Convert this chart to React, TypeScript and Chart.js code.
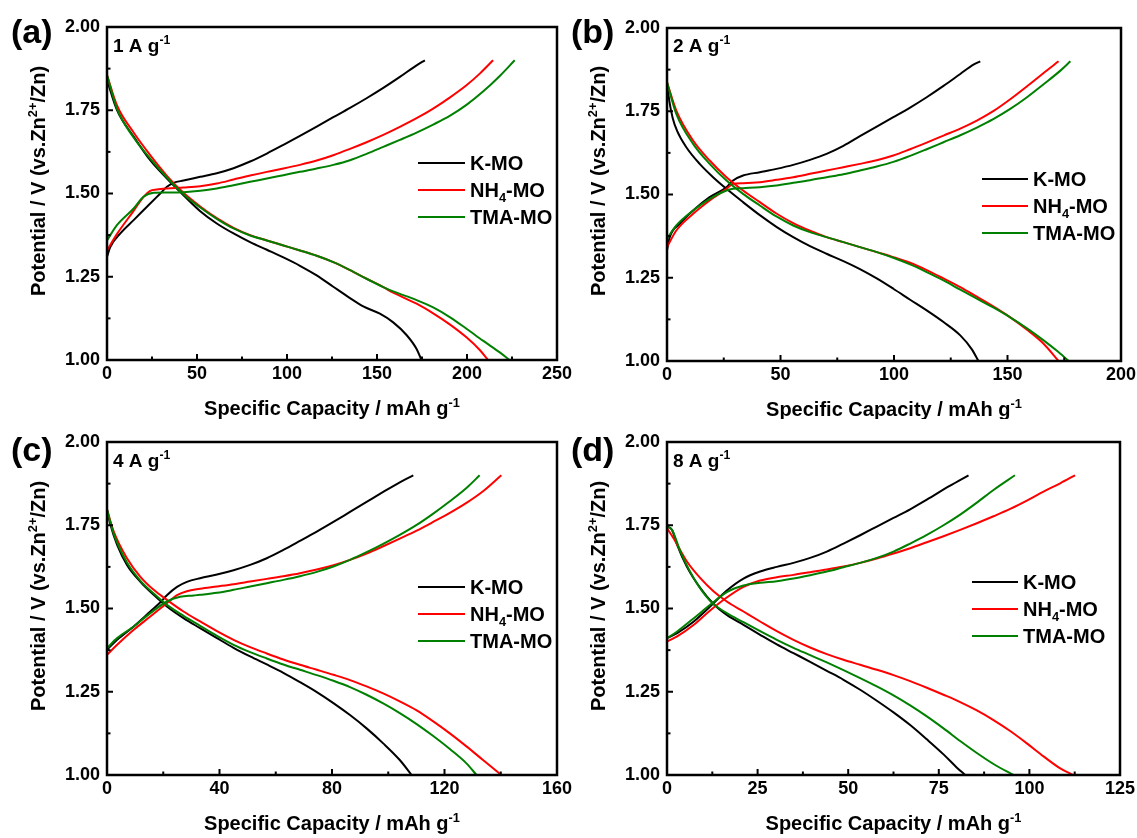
import { useEffect, useRef } from 'react';
import { Chart, registerables } from 'chart.js';
Chart.register(...registerables);

const FONT = "'Liberation Sans', Arial, Helvetica, sans-serif";

type Pt = [number, number];

// ---------- labels / ticks ----------
const SERIES_NAMES = ['K-MO', 'NH4-MO', 'TMA-MO'];
const SERIES_COLORS = ['#000000', '#ff0000', '#008000'];
const PANEL_LETTERS = ['(a)', '(b)', '(c)', '(d)'];
const CURRENT_DENSITIES = ['1', '2', '4', '8'];
const Y_TICKS = [1.0, 1.25, 1.5, 1.75, 2.0];
const X_TICKS_A = [0, 50, 100, 150, 200, 250];
const X_TICKS_B = [0, 50, 100, 150, 200];
const X_TICKS_C = [0, 40, 80, 120, 160];
const X_TICKS_D = [0, 25, 50, 75, 100, 125];

// ---------- (a) 1 A g-1 ----------
const A_K_DIS: Pt[] = [[0,1.841],[5.5,1.751],[14.8,1.671],[24.0,1.600],[33.3,1.545],[42.5,1.495],[51.8,1.447],[61.0,1.410],[70.3,1.380],[79.5,1.354],[88.8,1.331],[98.0,1.308],[107.2,1.283],[116.5,1.254],[125.7,1.220],[135.0,1.186],[142.4,1.161],[151.6,1.139],[159.0,1.113],[166.4,1.075],[172.0,1.033],[174.7,1.0]];
const A_N_DIS: Pt[] = [[0,1.856],[5.5,1.765],[14.8,1.683],[24.0,1.615],[33.3,1.553],[42.5,1.502],[51.8,1.461],[61.0,1.426],[70.3,1.397],[79.5,1.375],[88.8,1.359],[98.0,1.344],[107.2,1.329],[116.5,1.313],[125.7,1.294],[135.0,1.270],[144.2,1.244],[153.5,1.219],[159.0,1.202],[172.0,1.169],[181.2,1.140],[190.4,1.107],[199.7,1.068],[207.1,1.030],[211.7,1.0]];
const A_T_DIS: Pt[] = [[0,1.856],[5.5,1.755],[14.8,1.668],[24.0,1.605],[33.3,1.548],[42.5,1.498],[51.8,1.458],[61.0,1.424],[70.3,1.395],[79.5,1.374],[88.8,1.359],[98.0,1.344],[107.2,1.329],[116.5,1.313],[125.7,1.294],[135.0,1.270],[144.2,1.244],[153.5,1.219],[159.0,1.206],[172.0,1.180],[181.2,1.158],[190.4,1.129],[199.7,1.094],[208.9,1.058],[218.2,1.023],[223.7,1.0]];
const A_K_CHG: Pt[] = [[0,1.310],[1.8,1.339],[7.4,1.380],[14.8,1.420],[24.0,1.470],[29.6,1.500],[33.3,1.520],[37.0,1.532],[42.5,1.539],[51.8,1.550],[61.0,1.561],[70.3,1.576],[79.5,1.596],[88.8,1.620],[98.0,1.646],[107.2,1.673],[116.5,1.701],[125.7,1.729],[135.0,1.757],[144.2,1.786],[153.5,1.817],[162.7,1.850],[172.0,1.885],[176.6,1.900]];
const A_N_CHG: Pt[] = [[0,1.329],[5.5,1.378],[14.8,1.448],[20.3,1.490],[24.0,1.508],[27.7,1.512],[33.3,1.515],[42.5,1.518],[51.8,1.522],[61.0,1.530],[70.3,1.542],[79.5,1.554],[88.8,1.565],[98.0,1.575],[107.2,1.586],[116.5,1.599],[125.7,1.615],[135.0,1.634],[144.2,1.654],[153.5,1.676],[162.7,1.700],[172.0,1.726],[181.2,1.755],[190.4,1.788],[199.7,1.825],[207.1,1.860],[214.5,1.900]];
const A_T_CHG: Pt[] = [[0,1.359],[5.5,1.405],[14.8,1.455],[20.3,1.490],[25.9,1.502],[33.3,1.503],[42.5,1.504],[51.8,1.508],[61.0,1.515],[70.3,1.525],[79.5,1.535],[88.8,1.545],[98.0,1.555],[107.2,1.565],[116.5,1.575],[125.7,1.586],[135.0,1.600],[144.2,1.619],[153.5,1.640],[162.7,1.661],[172.0,1.683],[181.2,1.707],[190.4,1.733],[199.7,1.766],[208.9,1.806],[218.2,1.853],[226.5,1.900]];

// ---------- (b) 2 A g-1 ----------
const B_K_DIS: Pt[] = [[0,1.837],[1.0,1.782],[2.5,1.730],[4.5,1.690],[8.5,1.642],[14.4,1.592],[20.3,1.552],[26.2,1.517],[33.5,1.477],[40.9,1.438],[48.2,1.403],[55.6,1.372],[63.0,1.345],[70.3,1.322],[77.7,1.300],[85.0,1.276],[92.4,1.248],[99.7,1.217],[107.1,1.184],[114.4,1.152],[121.8,1.117],[129.2,1.077],[134.3,1.035],[137.2,1.0]];
const B_N_DIS: Pt[] = [[0,1.837],[4.1,1.752],[11.5,1.662],[18.8,1.602],[26.2,1.552],[33.5,1.512],[40.9,1.477],[48.2,1.443],[55.6,1.414],[63.0,1.391],[70.3,1.372],[77.7,1.357],[85.0,1.342],[92.4,1.327],[99.7,1.312],[107.1,1.295],[114.4,1.273],[121.8,1.248],[129.2,1.222],[136.5,1.193],[143.9,1.163],[151.2,1.131],[158.6,1.094],[165.9,1.052],[172.5,1.0]];
const B_T_DIS: Pt[] = [[0,1.837],[4.1,1.742],[11.5,1.652],[18.8,1.592],[26.2,1.542],[33.5,1.502],[40.9,1.467],[48.2,1.434],[55.6,1.407],[63.0,1.387],[70.3,1.372],[77.7,1.357],[85.0,1.342],[92.4,1.327],[99.7,1.310],[107.1,1.290],[114.4,1.267],[121.8,1.242],[129.2,1.214],[136.5,1.187],[143.9,1.160],[151.2,1.131],[158.6,1.098],[165.9,1.062],[171.5,1.032],[177.0,1.0]];
const B_K_CHG: Pt[] = [[0,1.332],[1.2,1.372],[5.6,1.412],[11.5,1.452],[18.8,1.492],[26.2,1.522],[29.1,1.542],[33.5,1.557],[40.9,1.567],[48.2,1.577],[55.6,1.589],[63.0,1.604],[70.3,1.622],[77.7,1.646],[85.0,1.675],[92.4,1.704],[99.7,1.732],[107.1,1.761],[114.4,1.792],[121.8,1.826],[129.2,1.862],[135.0,1.890],[138.0,1.900]];
const B_N_CHG: Pt[] = [[0,1.342],[4.1,1.392],[11.5,1.442],[18.8,1.482],[26.2,1.517],[29.1,1.532],[33.5,1.534],[40.9,1.537],[48.2,1.544],[55.6,1.552],[63.0,1.562],[70.3,1.572],[77.7,1.582],[85.0,1.592],[92.4,1.603],[99.7,1.617],[107.1,1.636],[114.4,1.656],[121.8,1.677],[129.2,1.698],[136.5,1.722],[143.9,1.751],[151.2,1.786],[158.6,1.825],[165.9,1.865],[172.5,1.900]];
const B_T_CHG: Pt[] = [[0,1.367],[4.1,1.407],[11.5,1.452],[18.8,1.487],[26.2,1.512],[29.1,1.517],[33.5,1.519],[40.9,1.522],[48.2,1.527],[55.6,1.535],[63.0,1.543],[70.3,1.552],[77.7,1.561],[85.0,1.572],[92.4,1.584],[99.7,1.598],[107.1,1.616],[114.4,1.636],[121.8,1.657],[129.2,1.678],[136.5,1.701],[143.9,1.727],[151.2,1.757],[158.6,1.792],[165.9,1.831],[173.3,1.872],[177.7,1.900]];

// ---------- (c) 4 A g-1 ----------
const C_K_DIS: Pt[] = [[0,1.797],[1.2,1.752],[3.6,1.691],[7.1,1.631],[11.8,1.581],[16.6,1.541],[21.3,1.506],[27.2,1.471],[33.1,1.441],[39.1,1.411],[45.0,1.382],[50.9,1.356],[56.8,1.332],[62.7,1.307],[68.6,1.279],[74.6,1.249],[80.5,1.216],[86.4,1.180],[92.3,1.140],[98.2,1.095],[104.1,1.045],[108.3,1.0]];
const C_N_DIS: Pt[] = [[0,1.797],[2.4,1.731],[7.1,1.651],[11.8,1.596],[16.6,1.556],[21.3,1.526],[27.2,1.491],[33.1,1.461],[39.1,1.432],[45.0,1.406],[50.9,1.384],[56.8,1.365],[62.7,1.347],[68.6,1.331],[74.6,1.316],[80.5,1.301],[86.4,1.285],[92.3,1.266],[98.2,1.245],[104.1,1.221],[110.1,1.194],[116.0,1.161],[121.9,1.125],[127.8,1.086],[133.7,1.045],[140.2,1.0]];
const C_T_DIS: Pt[] = [[0,1.797],[2.4,1.724],[7.1,1.638],[11.8,1.584],[16.6,1.545],[21.3,1.511],[27.2,1.478],[33.1,1.448],[39.1,1.418],[45.0,1.391],[50.9,1.369],[56.8,1.350],[62.7,1.332],[68.6,1.316],[74.6,1.300],[80.5,1.283],[86.4,1.264],[92.3,1.241],[98.2,1.215],[104.1,1.186],[110.1,1.153],[116.0,1.117],[121.9,1.078],[127.8,1.035],[131.4,1.0]];
const C_K_CHG: Pt[] = [[0,1.376],[3.6,1.406],[9.5,1.446],[15.4,1.491],[18.9,1.518],[21.3,1.540],[24.9,1.565],[28.4,1.580],[33.1,1.591],[39.1,1.602],[45.0,1.615],[50.9,1.631],[56.8,1.651],[62.7,1.676],[68.6,1.703],[74.6,1.731],[80.5,1.760],[86.4,1.790],[92.3,1.820],[98.2,1.850],[104.1,1.879],[108.9,1.900]];
const C_N_CHG: Pt[] = [[0,1.361],[3.6,1.391],[9.5,1.436],[15.4,1.476],[21.3,1.516],[24.9,1.540],[28.4,1.552],[33.1,1.559],[39.1,1.566],[45.0,1.573],[50.9,1.581],[56.8,1.589],[62.7,1.597],[68.6,1.606],[74.6,1.617],[80.5,1.630],[86.4,1.646],[92.3,1.665],[98.2,1.687],[104.1,1.710],[110.1,1.734],[116.0,1.760],[121.9,1.787],[127.8,1.817],[133.7,1.852],[140.2,1.900]];
const C_T_CHG: Pt[] = [[0,1.381],[3.6,1.411],[9.5,1.446],[15.4,1.486],[21.3,1.521],[26.0,1.535],[30.8,1.539],[33.1,1.541],[39.1,1.547],[45.0,1.556],[50.9,1.566],[56.8,1.576],[62.7,1.586],[68.6,1.597],[74.6,1.610],[80.5,1.626],[86.4,1.646],[92.3,1.669],[98.2,1.694],[104.1,1.721],[110.1,1.751],[116.0,1.785],[121.9,1.822],[127.8,1.862],[132.5,1.900]];

// ---------- (d) 8 A g-1 ----------
const D_K_DIS: Pt[] = [[0,1.746],[1.4,1.736],[2.8,1.691],[5.5,1.625],[9.2,1.561],[12.9,1.513],[16.5,1.481],[21.1,1.451],[25.7,1.421],[30.3,1.392],[34.9,1.366],[39.5,1.340],[44.1,1.313],[48.7,1.286],[53.3,1.256],[57.9,1.223],[62.5,1.188],[67.1,1.150],[71.7,1.107],[76.3,1.062],[80.0,1.022],[82.3,1.0]];
const D_N_DIS: Pt[] = [[0,1.741],[1.8,1.711],[5.5,1.641],[9.2,1.591],[12.9,1.551],[16.5,1.521],[21.1,1.491],[25.7,1.461],[30.3,1.432],[34.9,1.406],[39.5,1.383],[44.1,1.363],[48.7,1.346],[53.3,1.331],[57.9,1.316],[62.5,1.300],[67.1,1.282],[71.7,1.262],[76.3,1.241],[80.9,1.219],[85.5,1.194],[90.1,1.165],[94.7,1.132],[99.3,1.095],[103.9,1.056],[108.5,1.020],[112.1,1.0]];
const D_T_DIS: Pt[] = [[0,1.746],[1.4,1.736],[3.7,1.671],[7.4,1.591],[11.9,1.523],[16.5,1.486],[21.1,1.459],[25.7,1.432],[30.3,1.406],[34.9,1.382],[39.5,1.360],[44.1,1.338],[48.7,1.315],[53.3,1.291],[57.9,1.266],[62.5,1.239],[67.1,1.209],[71.7,1.176],[76.3,1.140],[80.9,1.102],[85.5,1.066],[90.1,1.033],[95.6,1.0]];
const D_K_CHG: Pt[] = [[0,1.411],[2.8,1.426],[7.4,1.461],[11.9,1.506],[16.5,1.554],[21.1,1.590],[25.7,1.611],[30.3,1.625],[34.9,1.637],[39.5,1.652],[44.1,1.671],[48.7,1.695],[53.3,1.720],[57.9,1.746],[62.5,1.772],[67.1,1.798],[71.7,1.827],[78.0,1.868],[83.2,1.900]];
const D_N_CHG: Pt[] = [[0,1.401],[2.8,1.416],[7.4,1.451],[11.9,1.494],[16.5,1.533],[21.1,1.565],[25.7,1.584],[30.3,1.594],[34.9,1.601],[39.5,1.609],[44.1,1.617],[48.7,1.626],[53.3,1.637],[57.9,1.650],[62.5,1.665],[67.1,1.681],[71.7,1.699],[76.3,1.717],[80.9,1.736],[85.5,1.756],[90.1,1.777],[94.7,1.799],[99.3,1.824],[103.9,1.851],[108.5,1.876],[112.6,1.900]];
const D_T_CHG: Pt[] = [[0,1.411],[2.8,1.431],[7.4,1.471],[11.9,1.511],[16.5,1.549],[21.1,1.569],[25.7,1.577],[30.3,1.582],[34.9,1.590],[39.5,1.600],[44.1,1.611],[48.7,1.624],[53.3,1.637],[57.9,1.652],[62.5,1.671],[67.1,1.695],[71.7,1.721],[76.3,1.750],[80.9,1.782],[85.5,1.818],[90.1,1.856],[96.0,1.900]];

// ---------- layout (styles / positions only) ----------
interface PanelCfg {
  box: { x: number; y: number; w: number; h: number };
  padTop: number;
  padRight: number;
  xHeight: number;
  xMax: number;
  xTicks: number[];
  series: [Pt[], Pt[]][];
  letter: string;
  current: string;
  letterPos: [number, number];
  currentBase: number;
  yTitle: [number, number];
  xTitleBase: number;
  legend: { x1: number; x2: number; tx: number; rows: number[] };
}

const PANELS: PanelCfg[] = [
  {
    box: { x: 0, y: 0, w: 592, h: 419 }, padTop: 27, padRight: 35, xHeight: 59,
    xMax: 250, xTicks: X_TICKS_A,
    series: [[A_K_DIS, A_K_CHG], [A_N_DIS, A_N_CHG], [A_T_DIS, A_T_CHG]],
    letter: PANEL_LETTERS[0], current: CURRENT_DENSITIES[0],
    letterPos: [11, 43], currentBase: 52, yTitle: [38, 181], xTitleBase: 415,
    legend: { x1: 418, x2: 465, tx: 470, rows: [163, 190, 217] },
  },
  {
    box: { x: 560, y: 0, w: 577, h: 419 }, padTop: 28, padRight: 16, xHeight: 58,
    xMax: 200, xTicks: X_TICKS_B,
    series: [[B_K_DIS, B_K_CHG], [B_N_DIS, B_N_CHG], [B_T_DIS, B_T_CHG]],
    letter: PANEL_LETTERS[1], current: CURRENT_DENSITIES[1],
    letterPos: [11, 43], currentBase: 52, yTitle: [38, 181], xTitleBase: 416,
    legend: { x1: 422, x2: 468, tx: 473, rows: [179, 206, 233] },
  },
  {
    box: { x: 0, y: 420, w: 592, h: 418 }, padTop: 22, padRight: 35, xHeight: 63,
    xMax: 160, xTicks: X_TICKS_C,
    series: [[C_K_DIS, C_K_CHG], [C_N_DIS, C_N_CHG], [C_T_DIS, C_T_CHG]],
    letter: PANEL_LETTERS[2], current: CURRENT_DENSITIES[2],
    letterPos: [11, 41], currentBase: 47, yTitle: [38, 176], xTitleBase: 410,
    legend: { x1: 418, x2: 465, tx: 470, rows: [167, 194, 221] },
  },
  {
    box: { x: 560, y: 420, w: 577, h: 418 }, padTop: 22, padRight: 17, xHeight: 63,
    xMax: 125, xTicks: X_TICKS_D,
    series: [[D_K_DIS, D_K_CHG], [D_N_DIS, D_N_CHG], [D_T_DIS, D_T_CHG]],
    letter: PANEL_LETTERS[3], current: CURRENT_DENSITIES[3],
    letterPos: [11, 41], currentBase: 47, yTitle: [38, 176], xTitleBase: 410,
    legend: { x1: 412, x2: 458, tx: 463, rows: [162, 189, 216] },
  },
];

// ---------- rich text helpers ----------
type Part = { t: string; m?: 'sup' | 'sub' };

function partFont(size: number, m?: string) {
  const s = m ? size * 0.64 : size;
  return `bold ${s}px ${FONT}`;
}

function measureParts(ctx: CanvasRenderingContext2D, parts: Part[], size: number) {
  let w = 0;
  for (const p of parts) {
    ctx.font = partFont(size, p.m);
    w += ctx.measureText(p.t).width;
  }
  return w;
}

function drawParts(ctx: CanvasRenderingContext2D, parts: Part[], x: number, y: number, size: number, align: 'left' | 'center') {
  const w = measureParts(ctx, parts, size);
  let cx = align === 'center' ? x - w / 2 : x;
  ctx.textAlign = 'left';
  ctx.textBaseline = 'alphabetic';
  for (const p of parts) {
    ctx.font = partFont(size, p.m);
    const dy = p.m === 'sup' ? -size * 0.4 : p.m === 'sub' ? size * 0.25 : 0;
    ctx.fillText(p.t, cx, y + dy);
    cx += ctx.measureText(p.t).width;
  }
}

function nameParts(name: string): Part[] {
  if (name === 'NH4-MO') return [{ t: 'NH' }, { t: '4', m: 'sub' }, { t: '-MO' }];
  return [{ t: name }];
}

function makeDeco(cfg: PanelCfg) {
  return {
    id: 'deco',
    afterDraw(chart: any) {
      const ctx: CanvasRenderingContext2D = chart.ctx;
      const ca = chart.chartArea;
      const xs = chart.scales.x;
      const ys = chart.scales.y;
      ctx.save();
      ctx.fillStyle = '#000';
      ctx.strokeStyle = '#000';

      // ticks (inward), major + minor
      ctx.lineWidth = 2;
      const xt = cfg.xTicks;
      for (let i = 0; i < xt.length; i++) {
        const px = xs.getPixelForValue(xt[i]);
        ctx.beginPath(); ctx.moveTo(px, ca.bottom); ctx.lineTo(px, ca.bottom - 6); ctx.stroke();
        if (i < xt.length - 1) {
          const pm = xs.getPixelForValue((xt[i] + xt[i + 1]) / 2);
          ctx.beginPath(); ctx.moveTo(pm, ca.bottom); ctx.lineTo(pm, ca.bottom - 3.5); ctx.stroke();
        }
      }
      for (let i = 0; i < Y_TICKS.length; i++) {
        const py = ys.getPixelForValue(Y_TICKS[i]);
        ctx.beginPath(); ctx.moveTo(ca.left, py); ctx.lineTo(ca.left + 6, py); ctx.stroke();
        if (i < Y_TICKS.length - 1) {
          const pm = ys.getPixelForValue((Y_TICKS[i] + Y_TICKS[i + 1]) / 2);
          ctx.beginPath(); ctx.moveTo(ca.left, pm); ctx.lineTo(ca.left + 3.5, pm); ctx.stroke();
        }
      }

      // frame
      ctx.lineWidth = 2.5;
      ctx.strokeRect(ca.left, ca.top, ca.right - ca.left, ca.bottom - ca.top);

      // panel letter
      ctx.font = `bold 34px ${FONT}`;
      ctx.textAlign = 'left';
      ctx.textBaseline = 'alphabetic';
      ctx.fillText(cfg.letter, cfg.letterPos[0], cfg.letterPos[1]);

      // current density
      drawParts(ctx, [{ t: `${cfg.current} A g` }, { t: '-1', m: 'sup' }], ca.left + 6, cfg.currentBase, 19, 'left');

      // x title
      drawParts(ctx, [{ t: 'Specific Capacity / mAh g' }, { t: '-1', m: 'sup' }], (ca.left + ca.right) / 2, cfg.xTitleBase, 20, 'center');

      // y title
      ctx.save();
      ctx.translate(cfg.yTitle[0], cfg.yTitle[1]);
      ctx.rotate(-Math.PI / 2);
      drawParts(ctx, [{ t: 'Potential / V (vs.Zn' }, { t: '2+', m: 'sup' }, { t: '/Zn)' }], 0, 7, 20, 'center');
      ctx.restore();

      // legend
      const lg = cfg.legend;
      for (let i = 0; i < SERIES_NAMES.length; i++) {
        const y = lg.rows[i];
        ctx.strokeStyle = SERIES_COLORS[i];
        ctx.lineWidth = 2;
        ctx.beginPath(); ctx.moveTo(lg.x1, y); ctx.lineTo(lg.x2, y); ctx.stroke();
        ctx.fillStyle = '#000';
        drawParts(ctx, nameParts(SERIES_NAMES[i]), lg.tx, y + 7.2, 20, 'left');
      }
      ctx.restore();
    },
  };
}

function Panel({ cfg }: { cfg: PanelCfg }) {
  const ref = useRef<HTMLCanvasElement>(null);
  useEffect(() => {
    const canvas = ref.current;
    if (!canvas) return;
    const datasets: any[] = [];
    cfg.series.forEach((pair, i) => {
      pair.forEach((pts, j) => {
        datasets.push({
          label: `${SERIES_NAMES[i]}-${j === 0 ? 'dis' : 'chg'}`,
          data: pts.map(([x, y]) => ({ x, y })),
          showLine: true,
          borderColor: SERIES_COLORS[i],
          backgroundColor: SERIES_COLORS[i],
          borderWidth: 2,
          pointRadius: 0,
          pointHoverRadius: 0,
          fill: false,
          cubicInterpolationMode: 'monotone',
          order: 2 - i,
        });
      });
    });
    const tickFont = { family: FONT, size: 18, weight: 'bold' as const };
    const chart = new Chart(canvas, {
      type: 'scatter',
      data: { datasets },
      options: {
        animation: false,
        responsive: false,
        maintainAspectRatio: false,
        events: [],
        layout: { padding: { left: 0, top: cfg.padTop, right: cfg.padRight, bottom: 0 } },
        plugins: { legend: { display: false }, tooltip: { enabled: false } },
        scales: {
          x: {
            type: 'linear',
            position: 'bottom',
            min: 0,
            max: cfg.xMax,
            grid: { display: false, drawTicks: false },
            border: { display: false },
            ticks: {
              padding: 3,
              color: '#000',
              font: tickFont,
              maxRotation: 0,
              autoSkip: false,
              callback: (v: any) => String(v),
            },
            afterBuildTicks: (s: any) => { s.ticks = cfg.xTicks.map((v) => ({ value: v })); },
            afterFit: (s: any) => { s.height = cfg.xHeight; s.paddingLeft = 0; s.paddingRight = 0; },
          },
          y: {
            type: 'linear',
            position: 'left',
            min: 1,
            max: 2,
            grid: { display: false, drawTicks: false },
            border: { display: false },
            ticks: {
              padding: 7,
              color: '#000',
              font: tickFont,
              autoSkip: false,
              callback: (v: any) => Number(v).toFixed(2),
            },
            afterBuildTicks: (s: any) => { s.ticks = Y_TICKS.map((v) => ({ value: v })); },
            afterFit: (s: any) => { s.width = 107; s.paddingTop = 0; s.paddingBottom = 0; },
          },
        },
      } as any,
      plugins: [makeDeco(cfg)],
    });
    return () => chart.destroy();
  }, [cfg]);
  return (
    <canvas
      ref={ref}
      width={cfg.box.w}
      height={cfg.box.h}
      style={{ position: 'absolute', left: cfg.box.x, top: cfg.box.y, width: cfg.box.w, height: cfg.box.h }}
    />
  );
}

export default function App() {
  return (
    <div style={{ position: 'absolute', left: 0, top: 0, width: 1137, height: 838, background: '#fff', overflow: 'hidden' }}>
      {PANELS.map((p, i) => (
        <Panel key={i} cfg={p} />
      ))}
    </div>
  );
}
